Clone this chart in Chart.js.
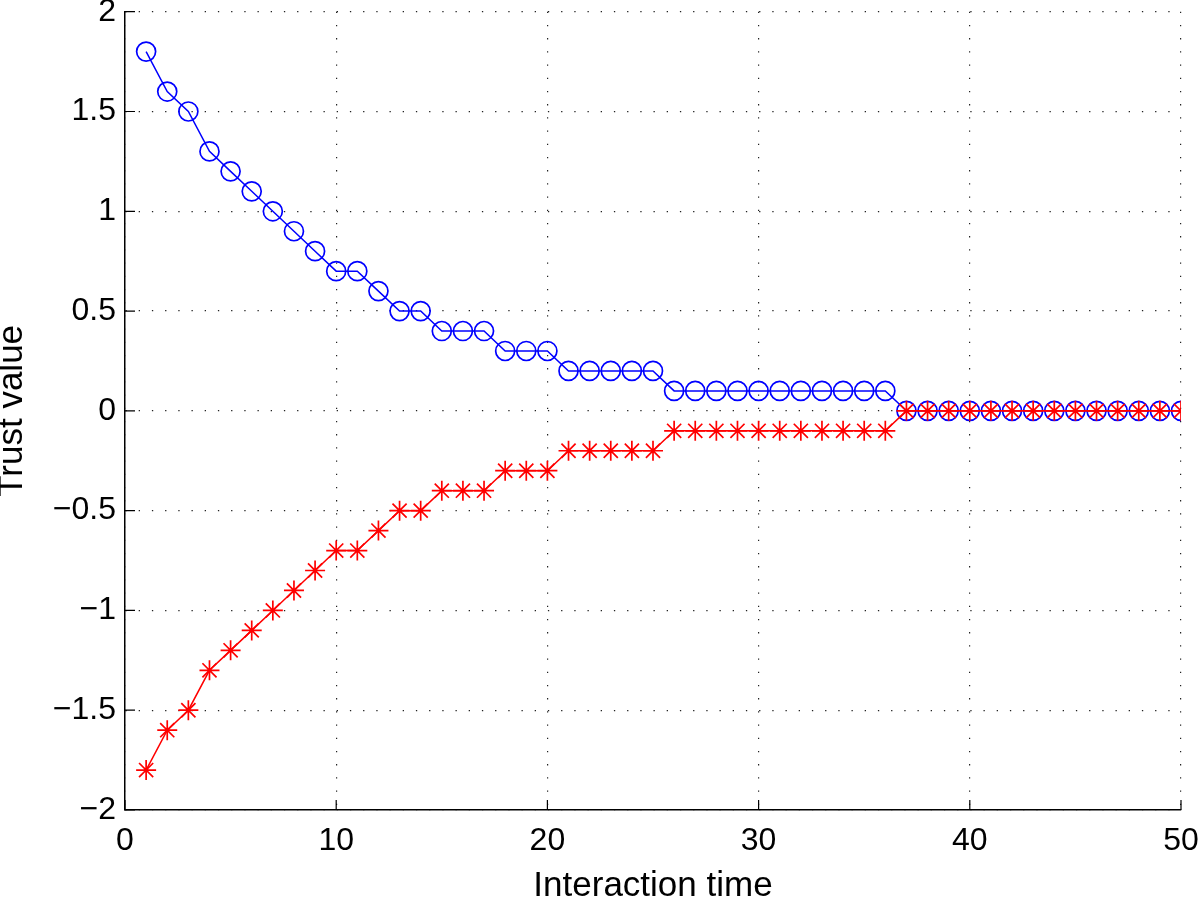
<!DOCTYPE html>
<html>
<head>
<meta charset="utf-8">
<script src="https://cdn.jsdelivr.net/npm/chart.js@4/dist/chart.umd.min.js"></script>
<style>
  html, body { margin: 0; padding: 0; background: #fff; }
  canvas { display: block; }
</style>
</head>
<body>
<canvas id="trustChart" width="1200" height="904"></canvas>
<script>
// interaction times 1..50
const interactionTimes = [
  1, 2, 3, 4, 5, 6, 7, 8, 9, 10,
  11, 12, 13, 14, 15, 16, 17, 18, 19, 20,
  21, 22, 23, 24, 25, 26, 27, 28, 29, 30,
  31, 32, 33, 34, 35, 36, 37, 38, 39, 40,
  41, 42, 43, 44, 45, 46, 47, 48, 49, 50
];

// blue circles (positive trust)
const trustPositive = [
  1.8, 1.6, 1.5, 1.3, 1.2, 1.1, 1.0, 0.9, 0.8, 0.7,
  0.7, 0.6, 0.5, 0.5, 0.4, 0.4, 0.4, 0.3, 0.3, 0.3,
  0.2, 0.2, 0.2, 0.2, 0.2, 0.1, 0.1, 0.1, 0.1, 0.1,
  0.1, 0.1, 0.1, 0.1, 0.1, 0.1, 0, 0, 0, 0,
  0, 0, 0, 0, 0, 0, 0, 0, 0, 0
];

// red stars (negative trust)
const trustNegative = [
  -1.8, -1.6, -1.5, -1.3, -1.2, -1.1, -1.0, -0.9, -0.8, -0.7,
  -0.7, -0.6, -0.5, -0.5, -0.4, -0.4, -0.4, -0.3, -0.3, -0.3,
  -0.2, -0.2, -0.2, -0.2, -0.2, -0.1, -0.1, -0.1, -0.1, -0.1,
  -0.1, -0.1, -0.1, -0.1, -0.1, -0.1, 0, 0, 0, 0,
  0, 0, 0, 0, 0, 0, 0, 0, 0, 0
];

const xTicks = [0, 10, 20, 30, 40, 50];
const yTicks = [-2, -1.5, -1, -0.5, 0, 0.5, 1, 1.5, 2];

const toPoints = (xs, ys) => xs.map((x, i) => ({ x: x, y: ys[i] }));

const fontFamily = '"Liberation Sans", Arial, Helvetica, sans-serif';
const tickFont = { family: fontFamily, size: 32, lineHeight: 0.69 };
const titleFont = { family: fontFamily, size: 35, lineHeight: 1 };

// ticks drawn inward like matlab
const inwardTicks = {
  id: 'inwardTicks',
  beforeDatasetsDraw(chart) {
    const ctx = chart.ctx;
    const area = chart.chartArea;
    const xs = chart.scales.x, ys = chart.scales.y;
    const len = 10;
    ctx.save();
    ctx.strokeStyle = '#000';
    ctx.lineWidth = 1.2;
    ctx.beginPath();
    xTicks.forEach(v => {
      const px = xs.getPixelForValue(v);
      ctx.moveTo(px, area.bottom);
      ctx.lineTo(px, area.bottom - len);
    });
    yTicks.forEach(v => {
      const py = ys.getPixelForValue(v);
      ctx.moveTo(area.left, py);
      ctx.lineTo(area.left + len, py);
    });
    ctx.stroke();
    ctx.restore();
  }
};

const fmt = v => {
  const s = String(Math.abs(v));
  return v < 0 ? '\u2212' + s : s;
};

const ctx = document.getElementById('trustChart').getContext('2d');
const chart = new Chart(ctx, {
  type: 'line',
  data: {
    datasets: [
      {
        label: 'positive',
        data: toPoints(interactionTimes, trustPositive),
        borderColor: 'rgb(0,0,255)',
        backgroundColor: 'rgba(0,0,0,0)',
        borderWidth: 1.5,
        pointStyle: 'circle',
        pointRadius: 9.5,
        pointBorderWidth: 1.7,
        pointBorderColor: 'rgb(0,0,255)',
        pointBackgroundColor: 'rgba(0,0,0,0)',
        tension: 0,
        order: 1
      },
      {
        label: 'negative',
        data: toPoints(interactionTimes, trustNegative),
        borderColor: 'rgb(255,0,0)',
        backgroundColor: 'rgba(0,0,0,0)',
        borderWidth: 1.5,
        pointStyle: 'star',
        pointRadius: 10,
        pointBorderWidth: 1.7,
        pointBorderColor: 'rgb(255,0,0)',
        pointBackgroundColor: 'rgba(0,0,0,0)',
        tension: 0,
        order: 0
      }
    ]
  },
  options: {
    responsive: false,
    animation: false,
    layout: { padding: 0 },
    plugins: {
      legend: { display: false },
      tooltip: { enabled: false }
    },
    scales: {
      x: {
        type: 'linear',
        min: 0,
        max: 50,
        afterBuildTicks: s => { s.ticks = xTicks.map(v => ({ value: v })); },
        afterFit: s => {
          s.height = 94;
          s.paddingLeft = 0;
          s.paddingRight = 19;
        },
        ticks: {
          color: '#000',
          font: tickFont,
          padding: 20,
          maxRotation: 0,
          callback: v => fmt(v)
        },
        grid: {
          color: '#222',
          lineWidth: 1.2,
          drawTicks: false,
          tickLength: 0
        },
        border: { display: true, color: '#000', width: 1.5, dash: [1.3, 11.9] },
        title: {
          display: true,
          text: 'Interaction time',
          color: '#000',
          font: titleFont,
          padding: { top: 0, bottom: 0 }
        }
      },
      y: {
        type: 'linear',
        min: -2,
        max: 2,
        afterBuildTicks: s => { s.ticks = yTicks.map(v => ({ value: v })); },
        afterFit: s => {
          s.width = 125;
          s.paddingTop = 11;
          s.paddingBottom = 0;
        },
        ticks: {
          color: '#000',
          font: tickFont,
          padding: 9,
          callback: v => fmt(v)
        },
        grid: {
          color: '#222',
          lineWidth: 1.2,
          drawTicks: false,
          tickLength: 0
        },
        border: { display: true, color: '#000', width: 1.5, dash: [1.3, 11.9] },
        title: {
          display: true,
          text: 'Trust value',
          color: '#000',
          font: titleFont,
          padding: { top: -5, bottom: 0 }
        }
      }
    }
  },
  plugins: [inwardTicks]
});
</script>
</body>
</html>
